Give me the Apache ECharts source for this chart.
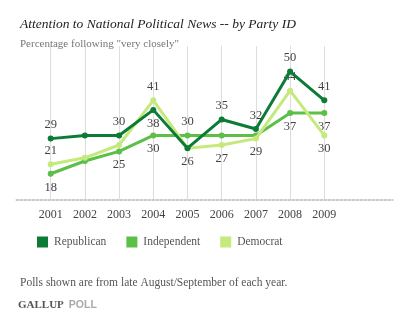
<!DOCTYPE html>
<html><head><meta charset="utf-8">
<script src="https://cdn.jsdelivr.net/npm/echarts@6/dist/echarts.min.js"></script>
<style>html,body{margin:0;padding:0;background:#fff}#c{width:400px;height:325px}</style>
</head><body><div id="c"></div>
<script>
// Data
var years = ['', '2001','2002','2003','2004','2005','2006','2007','2008','2009', '', ''];
var republican = [null, 29, 30, 30, 38, 26, 35, 32, 50, 41, null, null];
var independent = [null, 18, 22, 25, 30, 30, 30, 30, 37, 37, null, null];
var democrat = [null, 21, 23, 27, 41, 26, 27, 29, 44, 30, null, null];

// label placement (style, not data)
var placeR = [null,'top',null,'top','bottom','bottom','top','top','top','top',null,null];
var placeI = [null,'bottom',null,'bottom','bottom','top',null,null,'bottom','bottom',null,null];
var placeD = [null,'top',null,null,'top',null,'bottom','bottom','top','bottom',null,null];

var serif = '"Liberation Serif", "DejaVu Serif", serif';
function mk(vals, places){
  return vals.map(function(v,i){
    var p = places[i];
    return {value: v, label: p ? {show:true, position:p} : {show:false}};
  });
}
function series(name, vals, places, color, z){
  return {
    name: name, type:'line', data: mk(vals, places), z: z,
    symbol:'circle', symbolSize:6, showSymbol:true,
    lineStyle:{color:color, width:3}, itemStyle:{color:color},
    label:{color:'#444', fontFamily:serif, fontSize:12.5, distance:4},
    emphasis:{disabled:true}, animation:false
  };
}
var chart = echarts.init(document.getElementById('c'), null, {renderer:'canvas'});
chart.setOption({
  animation:false,
  title:[
    {text:'Attention to National Political News -- by Party ID', left:15, top:12,
     textStyle:{fontFamily:serif, fontStyle:'italic', fontWeight:'normal', fontSize:13.5, color:'#222'}},
    {text:'Percentage following "very closely"', left:15, top:34,
     textStyle:{fontFamily:serif, fontWeight:'normal', fontSize:11, color:'#777'}},
    {text:'Polls shown are from late August/September of each year.', left:15, top:272,
     textStyle:{fontFamily:serif, fontWeight:'normal', fontSize:11.5, color:'#555'}},
    {text:'{a|GALLUP} {b|POLL}', left:13, top:291,
     textStyle:{rich:{
       a:{fontFamily:serif, fontSize:11, color:'#555'},
       b:{fontFamily:'"Liberation Sans", Arial, sans-serif', fontSize:10.5, color:'#aaa'}
     }}}
  ],
  legend:{
    left:37, top:236, padding:0, itemWidth:11, itemHeight:11, itemGap:20,
    icon:'rect',
    data:[{name:'Republican'},{name:'Independent'},{name:'Democrat'}],
    textStyle:{fontFamily:serif, fontSize:11.5, color:'#555', padding:[0,0,0,1]},
    selectedMode:false
  },
  grid:{left:16.5, right:7.3, top:46, bottom:125.7},
  xAxis:{
    type:'category', data:years, boundaryGap:false,
    axisLine:{show:true, lineStyle:{color:'#ccc', width:2, type:'dotted'}},
    axisTick:{show:false},
    axisLabel:{interval:0, color:'#444', fontFamily:serif, fontSize:12, margin:10},
    splitLine:{show:true, interval:function(i, v){ return v !== ''; }, lineStyle:{color:'#ddd', width:1}}
  },
  yAxis:{type:'value', min:10, max:58, show:false, splitLine:{show:false}},
  series:[
    series('Independent', independent, placeI, '#5cbf47', 2),
    series('Democrat', democrat, placeD, '#c5e97c', 3),
    series('Republican', republican, placeR, '#0b7b36', 4)
  ]
});
</script></body></html>
